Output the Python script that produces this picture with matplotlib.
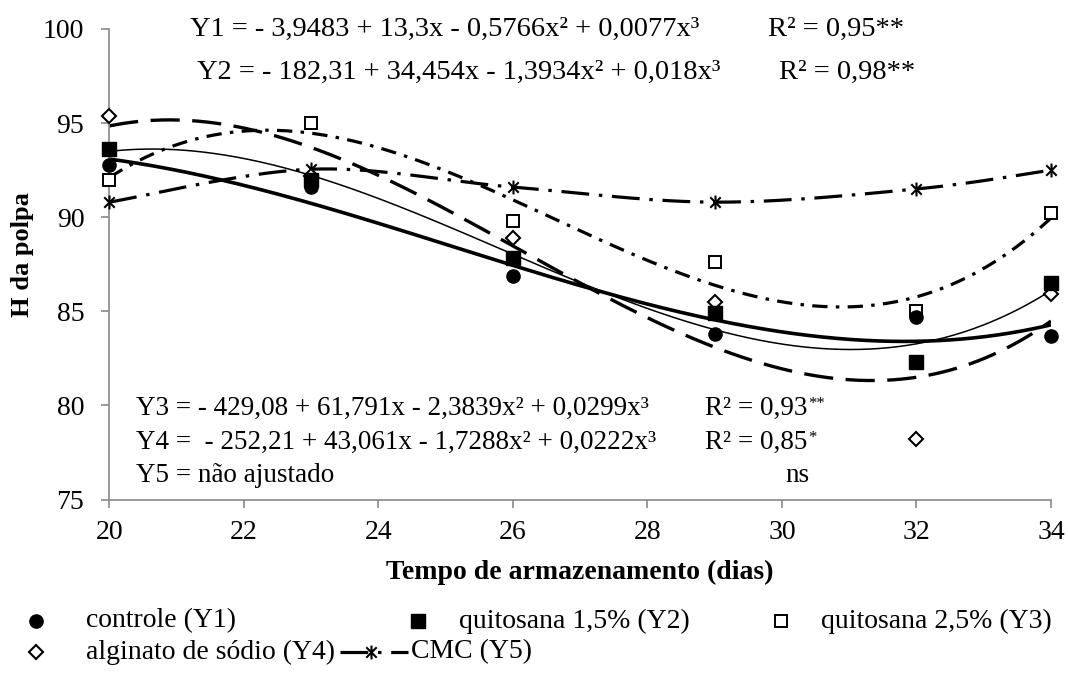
import numpy as np
import matplotlib
matplotlib.use('Agg')
import matplotlib.pyplot as plt
from matplotlib.lines import Line2D
from matplotlib.path import Path

plt.rcParams['font.family'] = ['Liberation Serif', 'DejaVu Serif']
plt.rcParams['lines.scale_dashes'] = False

# ---------------- data ----------------
dias = [20, 23, 26, 29, 32, 34]
controle = [92.8, 91.6, 86.9, 83.8, 84.7, 83.7]          # Y1
quitosana15 = [93.6, 92.0, 87.85, 84.9, 82.3, 86.5]      # Y2
quitosana25 = [92.0, 95.0, 89.8, 87.6, 85.0, 90.2]       # Y3
alginato = [95.4, 92.2, 88.9, 85.5, 78.2, 85.9]          # Y4
cmc = [90.8, 92.55, 91.6, 90.8, 91.5, 92.5]              # Y5

x_ticks = [20, 22, 24, 26, 28, 30, 32, 34]
y_ticks = [75, 80, 85, 90, 95, 100]

labels = ['controle (Y1)', 'quitosana 1,5% (Y2)', 'quitosana 2,5% (Y3)',
          'alginato de sódio (Y4)', 'CMC (Y5)']

eq_top = ['Y1 = - 3,9483 + 13,3x - 0,5766x² + 0,0077x³',
          'Y2 = - 182,31 + 34,454x - 1,3934x² + 0,018x³']
r2_top = ['R² = 0,95**', 'R² = 0,98**']
eq_bot = ['Y3 = - 429,08 + 61,791x - 2,3839x² + 0,0299x³',
          'Y4 =  - 252,21 + 43,061x - 1,7288x² + 0,0222x³',
          'Y5 = não ajustado']
r2_bot = ['R² = 0,93', 'R² = 0,85', 'ns']
sig_bot = ['**', '*']

# ---------------- figure ----------------
W, H = 1068, 676
fig = plt.figure(figsize=(W / 100, H / 100), dpi=100)
ax = fig.add_axes([109.3 / W, 1 - 499.5 / H, (1051 - 109.3) / W, (499.5 - 29) / H])

star_path = Path([(0, -1), (0, 1), (-0.75, -0.75), (0.75, 0.75), (-0.75, 0.75), (0.75, -0.75)],
                 [Path.MOVETO, Path.LINETO, Path.MOVETO, Path.LINETO, Path.MOVETO, Path.LINETO])

xs = np.linspace(20, 34, 400)


def cubic(y):
    c = np.polyfit(dias, y, 3)
    return np.polyval(c, xs)


def smooth(x, y, n=40):
    P = np.column_stack([np.asarray(x, float), np.asarray(y, float)])
    P = np.vstack([P[0], P, P[-1]])
    out = []
    t = np.linspace(0, 1, n)[:, None]
    for i in range(1, len(P) - 2):
        p0, p1, p2, p3 = P[i - 1], P[i], P[i + 1], P[i + 2]
        c1 = p1 + (p2 - p0) / 6
        c2 = p2 - (p3 - p1) / 6
        out.append((1 - t) ** 3 * p1 + 3 * (1 - t) ** 2 * t * c1 + 3 * (1 - t) * t ** 2 * c2 + t ** 3 * p2)
    return np.vstack(out)


k = 'black'
# trend lines
ax.plot(xs, cubic(controle), color=k, lw=2.6, solid_capstyle='butt', zorder=2)
ax.plot(xs, cubic(quitosana15), color=k, lw=1.1, zorder=2)
ax.plot(xs, cubic(quitosana25), color=k, lw=2.3, dashes=(11, 6, 2.5, 6), dash_capstyle='butt', zorder=2)
ax.plot(xs, cubic(alginato), color=k, lw=2.4, dashes=(21, 9), dash_capstyle='butt', zorder=2)
sm = smooth(dias, cmc)
ax.plot(sm[:, 0], sm[:, 1], color=k, lw=2.3, dashes=(20, 7, 2.5, 7), dash_capstyle='butt', zorder=2)

# markers
st = dict(linestyle='none', clip_on=False, zorder=4)
ax.plot(dias, cmc, marker=star_path, ms=10, mec=k, mew=1.5, **st)
ax.plot(dias, alginato, marker='D', ms=7, mfc='white', mec=k, mew=1.5, **st)
ax.plot(dias, quitosana25, marker='s', ms=9, mfc='white', mec=k, mew=1.4, **st)
ax.plot(dias, controle, marker='o', ms=9.5, mfc=k, mec=k, **st)
ax.plot(dias, quitosana15, marker='s', ms=9.5, mfc=k, mec=k, **st)

# axes styling
ax.set_xlim(20, 34)
ax.set_ylim(75, 100)
ax.set_xticks(x_ticks)
ax.set_yticks(y_ticks)
for s in ['top', 'right']:
    ax.spines[s].set_visible(False)
for s in ['left', 'bottom']:
    ax.spines[s].set_color('#898989')
    ax.spines[s].set_linewidth(1.2)
ax.tick_params(direction='out', length=6, width=1.2, color='#898989', labelsize=20, labelcolor='black')
ax.tick_params(axis='y', pad=12)
ax.tick_params(axis='x', pad=9)

# axis titles
fig.text(580 / W, 1 - 572 / H, 'Tempo de armazenamento (dias)', ha='center', va='center',
         fontsize=20, fontweight='bold')
fig.text(23 / W, 1 - 255 / H, 'H da polpa', ha='center', va='center', rotation=90,
         fontsize=19, fontweight='bold')

# equations (top)
fs_top = 20.5
ax.text(21.2, 100.0, eq_top[0], va='center', fontsize=fs_top, clip_on=False)
ax.text(29.8, 100.0, r2_top[0], va='center', fontsize=fs_top, clip_on=False)
ax.text(21.3, 97.7, eq_top[1], va='center', fontsize=fs_top, clip_on=False)
ax.text(29.95, 97.7, r2_top[1], va='center', fontsize=fs_top, clip_on=False)

# equations (bottom)
fs_bot = 19.5
rows = [79.85, 78.05, 76.3]
for i, yv in enumerate(rows):
    ax.text(20.4, yv, eq_bot[i], va='center', fontsize=fs_bot)
for i in range(2):
    t = ax.text(28.85, rows[i], r2_bot[i], va='center', fontsize=fs_bot)
    ax.annotate(sig_bot[i], xy=(1.0, 0.98), xycoords=t, xytext=(1, 0), textcoords='offset points',
                ha='left', va='top', fontsize=12)
ax.text(30.05, rows[2], r2_bot[2], va='center', fontsize=fs_bot)

# legend (manual)
row1 = 1 - 621 / H
row2 = 1 - 652 / H
fl = 20


def fx(px):
    return px / W


leg_items = [
    (fx(36), row1, dict(marker='o', ms=9.5, mfc=k, mec=k), fx(86), labels[0]),
    (fx(418), row1, dict(marker='s', ms=9.5, mfc=k, mec=k), fx(459), labels[1]),
    (fx(781), row1, dict(marker='s', ms=9, mfc='white', mec=k, mew=1.4), fx(821), labels[2]),
    (fx(36), row2, dict(marker='D', ms=7, mfc='white', mec=k, mew=1.5), fx(86), labels[3]),
]
for mx, my, mk, tx, lab in leg_items:
    fig.add_artist(Line2D([mx], [my], transform=fig.transFigure, linestyle='none', **mk))
    fig.text(tx, my, lab, va='center', fontsize=fl)

fig.add_artist(Line2D([fx(340), fx(408)], [row2, row2], transform=fig.transFigure, color=k,
                      lw=2.3, dashes=(20, 7, 2.5, 7), dash_capstyle='butt'))
fig.add_artist(Line2D([fx(371)], [row2], transform=fig.transFigure, linestyle='none',
                      marker=star_path, ms=10, mec=k, mew=1.5))
fig.text(fx(411), row2, labels[4], va='center', fontsize=fl)

fig.savefig('out.png', dpi=100)
